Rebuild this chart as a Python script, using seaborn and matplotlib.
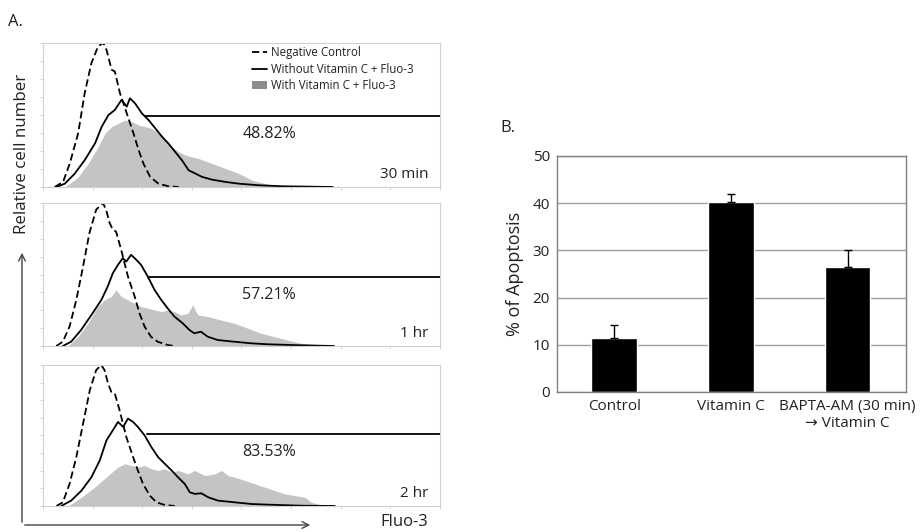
import numpy as np
import pandas as pd
import seaborn as sns
import matplotlib.pyplot as plt
from matplotlib.lines import Line2D
from matplotlib.patches import Patch, FancyArrowPatch

sns.set_style("white")
plt.rcParams['font.family'] = ['Open Sans', 'DejaVu Sans']

# ---- Panel A data (Fluo-3 channel 0-100, relative count 0-100) ----
times = ["30 min", "1 hr", "2 hr"]
gate_pct = ["48.82%", "57.21%", "83.53%"]
gate_x0 = [25.7, 26.4, 26.1]
gate_y = [49.5, 48.1, 50.8]

# negative control (dashed)
neg_x_30 = [2.95, 5.06, 6.75, 8.86, 10.5, 12.2, 13.9, 15.2, 16.0, 17.3, 18.1, 19.4, 21.1, 22.8, 24.1, 25.3, 27.0, 29.1, 31.6, 34.2]
neg_y_30 = [0, 3.5, 16.3, 37.2, 65.1, 86, 97.7, 100, 95.3, 81.4, 80.2, 65.1, 51.2, 37.2, 25.6, 16.3, 7, 2.3, 0.5, 0]
neg_x_1h = [3.35, 5.0, 6.7, 8.4, 10.1, 11.7, 13.4, 15.1, 15.9, 16.8, 17.6, 18.4, 19.7, 21.4, 23.1, 24.3, 25.6, 27.2, 28.9, 31.4, 33.1]
neg_y_1h = [0, 3.0, 13.6, 32.2, 55.6, 79, 95.3, 100, 95.3, 86, 81.3, 80.1, 67.3, 48.6, 34.6, 22.9, 13.6, 6.5, 3.0, 0.7, 0]
neg_x_2h = [3.4, 5.0, 6.7, 8.4, 10.1, 11.8, 13.4, 14.7, 15.5, 16.4, 17.2, 18.1, 19.3, 21.0, 22.7, 23.9, 25.2, 26.9, 28.6, 30.7, 33.2]
neg_y_2h = [0, 2.6, 15.7, 34.7, 58.4, 82.2, 96.4, 100, 96.4, 86.9, 81, 79.8, 67.9, 48.9, 34.7, 25.2, 15.7, 7.4, 2.6, 0.7, 0]

# without vitamin C + Fluo-3 (solid)
wo_x_30 = [3.4, 5.5, 8.0, 10.5, 13.1, 14.8, 16.5, 18.1, 19.8, 21.1, 21.9, 23.2, 24.9, 26.6, 28.3, 30.0, 31.6, 33.3, 35.0, 36.7, 38.4, 40.1, 42.6, 46.0, 49.4, 54.4, 60.3, 73]
wo_y_30 = [0, 2.3, 9.3, 18.6, 30.2, 41.9, 50, 53.5, 60.5, 55.8, 61.6, 58.1, 51.2, 46.5, 40.7, 34.9, 30.2, 24.4, 18.6, 11.6, 9.3, 7.0, 5.1, 3.5, 2.3, 1.2, 0.5, 0]
wo_x_1h = [5.0, 7.1, 9.6, 12.2, 14.7, 16.3, 17.6, 18.9, 20.1, 21.0, 22.2, 23.5, 24.7, 26.4, 28.1, 29.8, 31.4, 33.1, 35.2, 36.9, 38.1, 39.8, 41.5, 44.0, 48.2, 52.4, 56.6, 65.0, 73.3]
wo_y_1h = [0, 3.0, 11.2, 21.7, 32.2, 41.6, 50.9, 56.8, 61.4, 59.1, 63.8, 60.3, 56.8, 48.6, 39.3, 32.2, 26.4, 20.6, 15.9, 11.2, 8.9, 10.0, 6.5, 4.2, 3.0, 1.9, 1.2, 0.5, 0]
wo_x_2h = [4.6, 7.1, 9.7, 12.2, 14.3, 16.0, 17.6, 18.9, 20.2, 21.4, 22.7, 23.9, 25.6, 27.3, 29.0, 30.7, 32.4, 34.0, 35.7, 37.0, 38.2, 39.9, 41.6, 44.1, 48.3, 52.5, 56.7, 65.1, 73.5]
wo_y_2h = [0, 3.8, 10.9, 20.4, 32.3, 46.6, 53.7, 59.6, 56.1, 62.0, 59.6, 56.1, 50.1, 41.8, 34.7, 29.9, 25.2, 20.4, 15.7, 9.7, 8.6, 9.0, 6.2, 3.8, 2.6, 1.4, 0.95, 0.2, 0]

# with vitamin C + Fluo-3 (gray fill)
w_x_30 = [5.5, 8.9, 11.4, 13.9, 15.6, 17.3, 19.0, 20.7, 22.4, 24.1, 25.7, 27.4, 29.1, 30.8, 32.5, 34.2, 35.9, 39.2, 42.6, 46.0, 49.4, 52.7, 56.1, 60.3, 64.6]
w_y_30 = [0, 7, 16.3, 27.9, 37.2, 41.9, 44.2, 46.5, 45.3, 43, 41.9, 40.7, 37.2, 32.6, 27.9, 24.4, 22.1, 19.8, 16.3, 12.8, 9.3, 4.7, 2.3, 0.5, 0]
w_x_1h = [6.3, 8.8, 11.3, 13.8, 15.5, 17.2, 18.4, 19.7, 21.4, 23.1, 24.7, 26.4, 28.1, 29.8, 31.4, 33.1, 34.8, 36.5, 37.7, 39.0, 41.5, 44.8, 48.2, 51.6, 54.9, 58.3, 61.6, 65.0, 70.0, 75.0]
w_y_1h = [0, 6.5, 15.9, 27.6, 32.2, 34.6, 39.3, 34.6, 32.2, 29.9, 27.6, 26.4, 25.2, 24.1, 25.2, 24.1, 21.7, 22.9, 28.7, 21.7, 20.6, 18.2, 15.9, 12.4, 8.9, 6.5, 4.2, 1.9, 0.7, 0]
w_x_2h = [6.3, 9.7, 13.0, 16.4, 18.9, 20.6, 22.3, 23.9, 25.6, 27.3, 29.0, 30.7, 32.4, 34.0, 36.6, 38.2, 40.8, 43.3, 45.0, 46.6, 48.3, 50.8, 53.4, 55.9, 58.4, 60.9, 63.4, 66.0, 67.6, 70.2, 73.5]
w_y_2h = [0, 6.2, 13.3, 21.6, 27.6, 29.9, 28.7, 27.6, 28.7, 26.4, 25.2, 26.4, 24.0, 25.2, 22.8, 25.2, 21.6, 22.8, 25.2, 21.6, 20.4, 18.1, 15.7, 13.3, 10.9, 8.6, 7.4, 6.2, 2.6, 0.7, 0]

# ---- Panel B data ----
groups = ["Control", "Vitamin C", "BAPTA-AM (30 min)\n\u2192 Vitamin C"]
apoptosis = [11.5, 40.3, 26.5]
apoptosis_err = [2.7, 1.7, 3.5]

neg_curves = [(neg_x_30, neg_y_30), (neg_x_1h, neg_y_1h), (neg_x_2h, neg_y_2h)]
wo_curves = [(wo_x_30, wo_y_30), (wo_x_1h, wo_y_1h), (wo_x_2h, wo_y_2h)]
w_curves = [(w_x_30, w_y_30), (w_x_1h, w_y_1h), (w_x_2h, w_y_2h)]

txt = '#222222'
fig = plt.figure(figsize=(9.22, 5.32), dpi=100)

# panel A positions [left, bottom, width, height] in figure fraction
a_pos = [[0.0466, 0.6485, 0.4306, 0.2707],
         [0.0466, 0.3496, 0.4306, 0.2688],
         [0.0466, 0.0489, 0.4306, 0.2650]]

for i in range(3):
    ax = fig.add_axes(a_pos[i])
    wx, wy = w_curves[i]
    ax.fill_between(wx, wy, 0, color='#c4c4c4', lw=0)
    sns.lineplot(x=neg_curves[i][0], y=neg_curves[i][1], ax=ax, color='black',
                 lw=1.3, linestyle=(0, (4, 2)), sort=False, estimator=None)
    sns.lineplot(x=wo_curves[i][0], y=wo_curves[i][1], ax=ax, color='black',
                 lw=1.3, sort=False, estimator=None)
    ax.plot([gate_x0[i], 100], [gate_y[i], gate_y[i]], color='black', lw=1.3)
    ax.text(57, gate_y[i] - 12.5, gate_pct[i], ha='center', va='center', fontsize=11.5, color=txt)
    ax.text(97, 9, times[i], ha='right', va='center', fontsize=11, color=txt)
    ax.set_xlim(0, 100)
    ax.set_ylim(0, 100)
    ax.set_xticks(np.arange(0, 101, 12.5))
    ax.set_yticks(np.arange(0, 101, 12.5))
    ax.set_xticklabels([])
    ax.set_yticklabels([])
    ax.tick_params(length=2, width=0.6, color='#d0d0d0', bottom=True, left=True)
    for s in ax.spines.values():
        s.set_color('#d0d0d0')
        s.set_linewidth(0.8)
    if i == 0:
        handles = [Line2D([], [], color='black', lw=1.3, linestyle=(0, (4, 2))),
                   Line2D([], [], color='black', lw=1.3),
                   Patch(facecolor='#8c8c8c', edgecolor='none')]
        labels = ["Negative Control", "Without Vitamin C + Fluo-3", "With Vitamin C + Fluo-3"]
        ax.legend(handles, labels, loc='upper left', bbox_to_anchor=(0.5, 1.05),
                  frameon=False, fontsize=8.3, handlelength=1.3, handletextpad=0.4,
                  labelspacing=0.3, labelcolor=txt)

fig.text(0.009, 0.958, "A.", fontsize=12, color=txt, va='center')
fig.text(0.024, 1 - 154 / 532, "Relative cell number", rotation=90, fontsize=12.2,
         color=txt, ha='center', va='center')

# L-shaped axis arrows
corner = (22 / 922, 1 - 525 / 532)
fig.add_artist(FancyArrowPatch(corner, (22 / 922, 1 - 250 / 532), transform=fig.transFigure,
                               arrowstyle='->', mutation_scale=12, lw=1, color='#444444'))
fig.add_artist(FancyArrowPatch(corner, (313 / 922, 1 - 525 / 532), transform=fig.transFigure,
                               arrowstyle='->', mutation_scale=12, lw=1, color='#444444'))
fig.text(404 / 922, 1 - 522 / 532, "Fluo-3", fontsize=12, color=txt, ha='center', va='center')

# ---- Panel B ----
axb = fig.add_axes([0.6041, 0.2632, 0.3785, 0.4436])
dfb = pd.DataFrame({"group": groups, "value": apoptosis})
axb.yaxis.grid(True, color='#a0a0a0', lw=1)
axb.set_axisbelow(True)
sns.barplot(data=dfb, x="group", y="value", color='black', width=0.39, ax=axb,
            saturation=1, errorbar=None)
axb.errorbar(np.arange(len(groups)), apoptosis, yerr=[np.zeros(3), apoptosis_err],
             fmt='none', ecolor='black', elinewidth=1, capsize=3, capthick=1)
axb.set_ylim(0, 50)
axb.set_xlim(-0.49, 2.5)
axb.set_yticks(range(0, 51, 10))
axb.set_xlabel("")
axb.set_ylabel("% of Apoptosis", fontsize=13, color=txt, labelpad=6)
axb.tick_params(length=0, labelsize=11, labelcolor=txt, pad=5)
for s in axb.spines.values():
    s.set_color('#808080')
    s.set_linewidth(1)
fig.text(500 / 922, 1 - 128 / 532, "B.", fontsize=12, color=txt, va='center')

fig.savefig("out.png", dpi=100)
